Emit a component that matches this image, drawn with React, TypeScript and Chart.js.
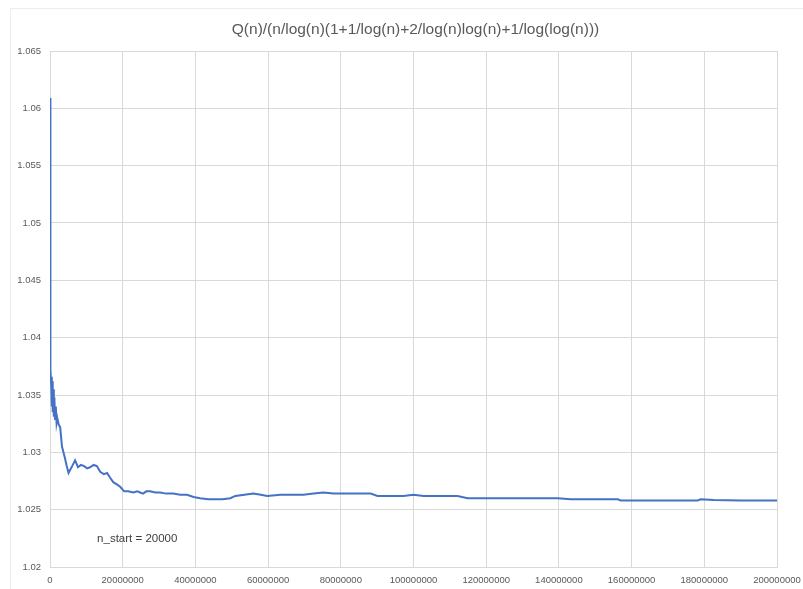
import React, { useEffect, useRef } from "react";
import { Chart, registerables } from "chart.js";

Chart.register(...registerables);

const TITLE = "Q(n)/(n/log(n)(1+1/log(n)+2/log(n)log(n)+1/log(log(n)))";
const NOTE = "n_start = 20000";

// n sampled along the run
const nValues: number[] = [
  20000, 30000, 50000, 80000, 120000, 180000, 250000, 350000, 450000, 550000,
  650000, 750000, 900000, 1050000, 1200000, 1400000, 1600000, 1800000, 2000000, 2400000,
  2800000, 3300000, 3700000, 4100000, 4600000, 5100000, 5600000, 6100000, 6900000, 7700000,
  8500000, 9400000, 10200000, 11000000, 12000000, 12900000, 13800000, 14800000, 15700000, 16500000,
  17400000, 18400000, 19300000, 20400000, 21500000, 22900000, 24000000, 24800000, 25600000, 26500000,
  27500000, 29000000, 30300000, 32000000, 33900000, 35800000, 37700000, 39500000, 41300000, 43500000,
  45500000, 47500000, 49600000, 51000000, 53500000, 55900000, 58000000, 59800000, 63400000, 66500000,
  69700000, 72500000, 75200000, 78000000, 80700000, 85000000, 88200000, 90100000, 94000000, 97200000,
  100000000, 102800000, 107000000, 112100000, 114900000, 121200000, 130000000, 139700000, 143300000, 150000000,
  156200000, 157000000, 165000000, 172000000, 178200000, 179000000, 182600000, 190000000, 200000000,
];

// ratio Q(n) / (n/log(n)(1+1/log(n)+2/log(n)log(n)+1/log(log(n))))
const ratios: number[] = [
  1.0609, 1.056, 1.05, 1.045, 1.0415, 1.039, 1.0372, 1.0358, 1.0366, 1.034,
  1.0362, 1.0335, 1.0355, 1.0331, 1.0348, 1.0329, 1.034, 1.0326, 1.033, 1.0324,
  1.0322, 1.0305, 1.03, 1.0295, 1.0288, 1.0282, 1.0285, 1.0288, 1.0293, 1.0287,
  1.0289, 1.0288, 1.0286, 1.0287, 1.0289, 1.0288, 1.0283, 1.0281, 1.0282, 1.0278,
  1.0274, 1.0272, 1.027, 1.0266, 1.0266, 1.0265, 1.0266, 1.0265, 1.0264, 1.0266,
  1.0266, 1.0265, 1.0265, 1.0264, 1.0264, 1.0263, 1.0263, 1.0261, 1.026, 1.0259,
  1.0259, 1.0259, 1.026, 1.0262, 1.0263, 1.0264, 1.0263, 1.0262, 1.0263, 1.0263,
  1.0263, 1.0264, 1.0265, 1.0264, 1.0264, 1.0264, 1.0264, 1.0262, 1.0262, 1.0262,
  1.0263, 1.0262, 1.0262, 1.0262, 1.026, 1.026, 1.026, 1.026, 1.0259, 1.0259,
  1.0259, 1.0258, 1.0258, 1.0258, 1.0258, 1.0259, 1.02585, 1.0258, 1.0258,
];

const yMin = 1.02;
const yMax = 1.065;
const yStep = 0.005;
const xMin = 0;
const xMax = 200000000;
const xStep = 20000000;

// where the n_start note sits, in data units
const noteAt = { x: 24000000, y: 1.0225 };

const GRID = "#d9d9d9";
const TEXT = "#595959";
const LINE = "#4472c4";
const FONT = "'Liberation Sans', Arial, sans-serif";

const overlay = {
  id: "overlay",
  beforeDraw(chart: any) {
    const ctx = chart.ctx;
    ctx.save();
    ctx.fillStyle = "#ffffff";
    ctx.fillRect(0, 0, chart.width, chart.height);
    ctx.strokeStyle = "#ececec";
    ctx.lineWidth = 1;
    ctx.beginPath();
    ctx.moveTo(10.5, chart.height);
    ctx.lineTo(10.5, 8.5);
    ctx.lineTo(chart.width, 8.5);
    ctx.stroke();
    ctx.restore();
  },
  afterDraw(chart: any) {
    const ctx = chart.ctx;
    const area = chart.chartArea;
    ctx.save();
    ctx.fillStyle = TEXT;
    ctx.font = `15.5px ${FONT}`;
    ctx.textAlign = "center";
    ctx.textBaseline = "middle";
    ctx.fillText(TITLE, (area.left + area.right) / 2 + 2, 30);
    const xs = chart.scales.x;
    const ys = chart.scales.y;
    ctx.fillStyle = "#404040";
    ctx.font = `11.5px ${FONT}`;
    ctx.fillText(NOTE, xs.getPixelForValue(noteAt.x), ys.getPixelForValue(noteAt.y));
    ctx.restore();
  },
};

export default function App() {
  const canvasRef = useRef<HTMLCanvasElement | null>(null);

  useEffect(() => {
    const canvas = canvasRef.current;
    if (!canvas) return;
    const points = nValues.map((n, i) => ({ x: n, y: ratios[i] }));
    const chart = new Chart(canvas, {
      type: "line",
      data: {
        datasets: [
          {
            data: points,
            borderColor: LINE,
            backgroundColor: LINE,
            borderWidth: 2,
            pointRadius: 0,
            tension: 0,
            fill: false,
          },
        ],
      },
      options: {
        responsive: false,
        animation: false,
        parsing: false as any,
        layout: { padding: { left: 0, right: 26, top: 51, bottom: 0 } },
        plugins: {
          legend: { display: false },
          title: { display: false },
          tooltip: { enabled: false },
        },
        scales: {
          x: {
            type: "linear",
            min: xMin,
            max: xMax,
            grid: { color: GRID, drawTicks: false },
            border: { color: GRID },
            ticks: {
              stepSize: xStep,
              color: TEXT,
              font: { size: 9.5, family: FONT },
              padding: 8,
              maxRotation: 0,
              autoSkip: false,
              callback: (v: any) => String(Math.round(Number(v))),
            },
            afterFit: (s: any) => {
              s.height = 22;
              s.paddingLeft = 0;
              s.paddingRight = 0;
            },
          },
          y: {
            type: "linear",
            min: yMin,
            max: yMax,
            grid: { color: GRID, drawTicks: false },
            border: { color: GRID },
            ticks: {
              stepSize: yStep,
              color: TEXT,
              font: { size: 9.5, family: FONT },
              padding: 9,
              callback: (v: any) => String(Number(Number(v).toFixed(3))),
            },
            afterFit: (s: any) => {
              s.width = 50;
              s.paddingTop = 0;
              s.paddingBottom = 0;
            },
          },
        },
      },
      plugins: [overlay],
    });
    return () => chart.destroy();
  }, []);

  return (
    <div style={{ position: "absolute", left: 0, top: 0, width: 803, height: 589 }}>
      <canvas ref={canvasRef} width={803} height={589} style={{ display: "block" }} />
    </div>
  );
}
